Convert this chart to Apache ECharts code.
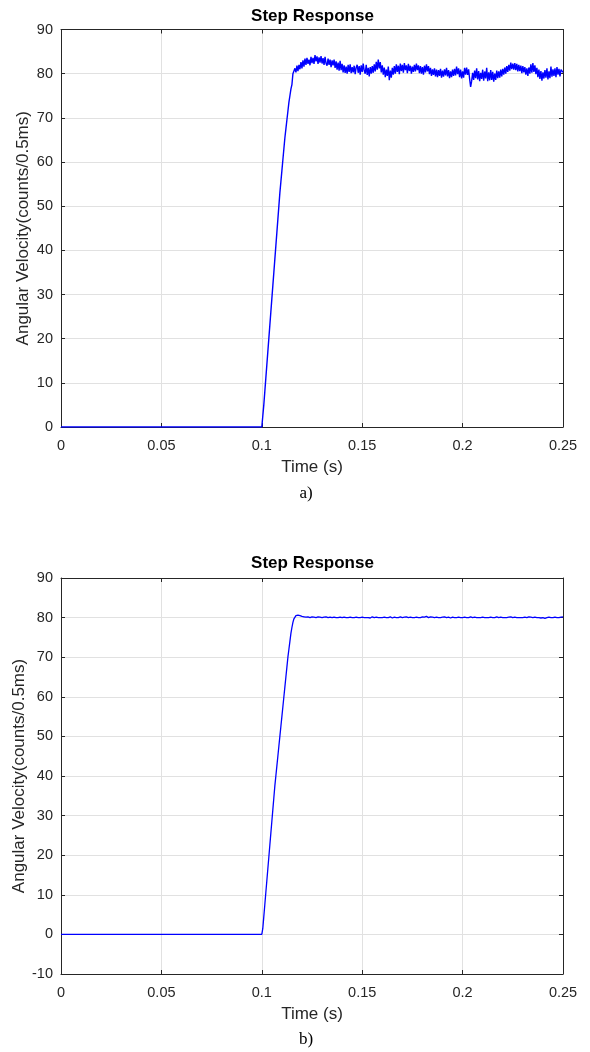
<!DOCTYPE html>
<html>
<head>
<meta charset="utf-8">
<script src="https://cdn.jsdelivr.net/npm/echarts@6/dist/echarts.min.js"></script>
<style>
html,body{margin:0;padding:0;background:#fff;}
#chart{width:590px;height:1052px;}
</style>
</head>
<body>
<div id="chart"></div>
<script>
// ---------- data ----------
const titleText = 'Step Response';
const xAxisName = 'Time (s)';
const yAxisName = 'Angular Velocity(counts/0.5ms)';
const captions = ['a)', 'b)'];
const xTicks = [0, 0.05, 0.1, 0.15, 0.2, 0.25];
const yRangeA = [0, 90];
const yRangeB = [-10, 90];

const stepTime = 0.1;        // s, time of the step
const sampleDt = 0.0005;     // s, sample period (0.5 ms)
const plateauDtB = 0.001;    // s, spacing of read-off plateau values (plot b)

// Plot a): samples from t = 0.100 s, every 0.5 ms
const velocityA = [
  0, 2.5, 5, 8, 11, 14, 17, 20, 23, 26,
  29, 32, 35, 38, 41, 44, 47, 50, 53, 55.5,
  58, 60.5, 63, 65.5, 67.5, 69.5, 71.5, 73.5, 75, 76.5,
  77.5, 80,
  80.0, 81.2, 80.3, 81.8, 80.6, 82.0, 81.0, 82.6, 81.2, 83.0, 81.6, 83.4, 82.0, 83.6, 82.2, 83.2, 81.9, 83.8, 82.4, 83.6,
  82.2, 84.2, 82.8, 83.9, 82.2, 83.7, 82.5, 84.0, 82.3, 83.5, 82.0, 83.8, 82.3, 81.8, 83.4, 82.0, 83.2, 81.5, 83.0, 81.9,
  83.2, 81.3, 82.8, 80.9, 82.5, 80.7, 82.9, 80.8, 82.2, 80.3, 81.9, 80.2, 81.6, 80.0, 82.0, 80.4, 82.1, 80.1, 81.5, 80.3,
  81.8, 79.9, 81.4, 82.0, 80.2, 81.7, 79.8, 81.9, 80.4, 82.3, 80.7, 80.0, 82.0, 79.7, 81.3, 79.4, 81.5, 80.0, 81.7, 80.2,
  82.1, 80.5, 82.7, 80.9, 83.2, 81.2, 82.6, 80.3, 81.9, 79.8, 81.4, 79.2, 80.9, 79.5, 81.6, 78.5, 80.7, 79.1, 81.3, 79.8,
  81.7, 80.0, 82.1, 80.4, 81.8, 79.9, 82.3, 80.6, 82.0, 80.2, 82.4, 80.8, 81.9, 80.1, 82.2, 80.6, 81.8, 80.0, 81.6, 80.4,
  82.0, 80.5, 82.3, 80.8, 81.9, 80.1, 81.7, 80.0, 81.5, 79.8, 81.8, 80.3, 82.1, 80.5, 81.7, 79.9, 81.3, 79.5, 81.0, 79.7,
  81.2, 79.4, 80.9, 79.2, 80.8, 79.5, 81.1, 79.1, 80.7, 79.3, 81.0, 79.6, 81.3, 79.4, 80.8, 79.0, 80.5, 79.2, 80.9, 79.5,
  81.1, 79.6, 81.6, 79.9, 81.2, 79.2, 80.9, 78.9, 80.5, 79.1, 81.3, 79.8, 81.4, 79.7, 81.0, 78.8, 77.0, 78.3, 80.2, 78.6,
  80.7, 79.0, 81.2, 78.7, 80.6, 78.3, 80.2, 78.8, 80.9, 78.4, 80.5, 78.9, 81.3, 78.3, 80.3, 78.5, 80.8, 78.6, 80.4, 78.2,
  80.0, 78.6, 80.7, 79.0, 80.5, 79.1, 80.9, 79.4, 81.1, 79.8, 81.4, 80.0, 81.7, 80.4, 82.0, 80.7, 82.5, 81.0, 82.3, 80.9,
  82.4, 80.8, 82.2, 80.5, 82.0, 80.6, 81.8, 80.1, 81.7, 80.3, 81.5, 79.8, 81.2, 79.5, 81.4, 80.0, 82.1, 80.2, 82.4, 80.4,
  81.9, 79.9, 81.3, 79.2, 80.9, 78.8, 80.6, 78.4, 80.3, 78.9, 80.8, 79.1, 81.2, 78.7, 80.5, 79.0, 81.6, 79.3, 81.0, 79.5,
  81.2, 79.2, 81.5, 79.8, 81.1, 79.4, 80.9, 81.3, 80.3
];

// Plot b): rise samples from t = 0.100 s, every 0.5 ms
const riseB = [
  0, 1.5, 4.5, 7.5, 10.5, 13.5, 16.5, 19.5, 22.5, 25.5,
  28.5, 31.5, 34.5, 37.5, 40, 42.5, 45, 47.5, 50, 52.5,
  55, 57.5, 60, 62.5, 65, 67.5, 70, 72, 74, 76,
  77.5, 78.8, 79.7, 80.2, 80.5, 80.6, 80.6, 80.5, 80.5, 80.4
];
// Plot b): plateau values from t = 0.120 s, every 1 ms
const plateauB = [
  80.3, 80.2, 80.1, 80.2, 80.0, 80.2, 80.1, 80.0, 80.2, 80.1,
  80.0, 80.1, 80.2, 80.0, 80.1, 80.0, 80.1, 80.0, 80.0, 80.1,
  80.0, 80.1, 80.0, 80.0, 80.1, 80.0, 80.0, 80.1, 80.0, 80.0,
  80.1, 80.0, 80.0, 80.0, 79.9, 80.2, 80.0, 80.1, 80.0, 80.0,
  80.0, 80.1, 80.0, 80.0, 80.2, 79.9, 80.1, 80.0, 80.0, 80.2,
  80.0, 80.1, 80.2, 80.0, 80.1, 80.0, 80.0, 80.1, 80.0, 80.0,
  80.2, 80.1, 80.3, 80.0, 80.2, 80.1, 80.0, 80.1, 80.0, 80.0,
  80.1, 80.2, 80.0, 80.1, 79.9, 80.1, 80.0, 80.0, 80.1, 80.0,
  80.0, 80.1, 80.0, 80.0, 80.2, 80.0, 80.1, 80.0, 80.0, 80.0,
  80.1, 80.0, 80.0, 80.0, 80.1, 80.0, 80.0, 80.2, 80.0, 80.1,
  80.0, 80.0, 80.0, 80.1, 80.2, 80.0, 80.1, 80.0, 80.0, 80.0,
  80.0, 80.1, 80.0, 80.2, 80.1, 80.0, 80.1, 80.0, 80.0, 79.9,
  80.0, 79.8, 80.0, 80.1, 80.0, 80.0, 80.1, 80.0, 80.0, 80.1, 80.2
];
const plateauStartB = 0.12;

// ---------- build series data ----------
const r6 = v => Math.round(v * 1e6) / 1e6;
const dataA = [[0, 0]].concat(velocityA.map((v, i) => [r6(stepTime + i * sampleDt), v]));
const dataB = [[0, 0]]
  .concat(riseB.map((v, i) => [r6(stepTime + i * sampleDt), v]))
  .concat(plateauB.map((v, i) => [r6(plateauStartB + i * plateauDtB), v]));

// ---------- chart ----------
const FONT = "'Liberation Sans', Arial, Helvetica, sans-serif";
const AX = '#262626';
const GRIDC = '#e1e1e1';
const grids = [
  { left: 61, top: 29.5, width: 502, height: 397.5, containLabel: false, outerBoundsMode: 'none' },
  { left: 61, top: 578, width: 502, height: 396, containLabel: false, outerBoundsMode: 'none' }
];
const xFmt = v => String(+(+v).toFixed(4));

function mainX(gi) {
  return {
    type: 'value', gridIndex: gi, min: xTicks[0], max: xTicks[xTicks.length - 1], interval: 0.05,
    position: 'bottom',
    name: xAxisName, nameLocation: 'middle', nameGap: 32, nameMoveOverlap: false,
    nameTextStyle: { fontFamily: FONT, fontSize: 17, color: AX },
    axisLine: { show: true, onZero: false, lineStyle: { color: AX, width: 1 } },
    axisTick: { show: true, inside: true, length: 4, lineStyle: { color: AX } },
    axisLabel: { show: true, margin: 11, fontFamily: FONT, fontSize: 14.5, color: AX, formatter: xFmt },
    splitLine: { show: true, lineStyle: { color: GRIDC, width: 1 } }
  };
}
function topX(gi) {
  return {
    type: 'value', gridIndex: gi, min: xTicks[0], max: xTicks[xTicks.length - 1], interval: 0.05,
    position: 'top',
    axisLine: { show: true, onZero: false, lineStyle: { color: AX, width: 1 } },
    axisTick: { show: true, inside: true, length: 4, lineStyle: { color: AX } },
    axisLabel: { show: false }, splitLine: { show: false }
  };
}
function mainY(gi, range, gap) {
  return {
    type: 'value', gridIndex: gi, min: range[0], max: range[1], interval: 10,
    position: 'left',
    name: yAxisName, nameLocation: 'middle', nameGap: gap, nameMoveOverlap: false,
    nameTextStyle: { fontFamily: FONT, fontSize: 17, color: AX },
    axisLine: { show: true, onZero: false, lineStyle: { color: AX, width: 1 } },
    axisTick: { show: true, inside: true, length: 4, lineStyle: { color: AX } },
    axisLabel: { show: true, margin: 8, fontFamily: FONT, fontSize: 14.5, color: AX },
    splitLine: { show: true, lineStyle: { color: GRIDC, width: 1 } }
  };
}
function rightY(gi, range) {
  return {
    type: 'value', gridIndex: gi, min: range[0], max: range[1], interval: 10,
    position: 'right',
    axisLine: { show: true, onZero: false, lineStyle: { color: AX, width: 1 } },
    axisTick: { show: true, inside: true, length: 4, lineStyle: { color: AX } },
    axisLabel: { show: false }, splitLine: { show: false }
  };
}

const titleFont = "bold 17px 'Liberation Sans', Arial, Helvetica, sans-serif";
const capFont = "17px 'Liberation Serif', 'Times New Roman', serif";

const chart = echarts.init(document.getElementById('chart'), null, { renderer: 'canvas' });
chart.setOption({
  animation: false,
  backgroundColor: '#ffffff',
  grid: grids,
  xAxis: [mainX(0), topX(0), mainX(1), topX(1)],
  yAxis: [mainY(0, yRangeA, 29), rightY(0, yRangeA), mainY(1, yRangeB, 33), rightY(1, yRangeB)],
  series: [
    { type: 'line', xAxisIndex: 0, yAxisIndex: 0, data: dataA, showSymbol: false, symbol: 'none',
      lineStyle: { color: '#0000ff', width: 1.4 }, clip: true },
    { type: 'line', xAxisIndex: 2, yAxisIndex: 2, data: dataB, showSymbol: false, symbol: 'none',
      lineStyle: { color: '#0000ff', width: 1.3 }, clip: true }
  ],
  graphic: [
    { type: 'text', x: 312.5, y: 16, style: { text: titleText, font: titleFont, fill: '#000', textAlign: 'center', textVerticalAlign: 'middle' } },
    { type: 'text', x: 312.5, y: 563, style: { text: titleText, font: titleFont, fill: '#000', textAlign: 'center', textVerticalAlign: 'middle' } },
    { type: 'text', x: 306, y: 494, style: { text: captions[0], font: capFont, fill: '#000', textAlign: 'center', textVerticalAlign: 'middle' } },
    { type: 'text', x: 306, y: 1040, style: { text: captions[1], font: capFont, fill: '#000', textAlign: 'center', textVerticalAlign: 'middle' } }
  ]
});
</script>
</body>
</html>
